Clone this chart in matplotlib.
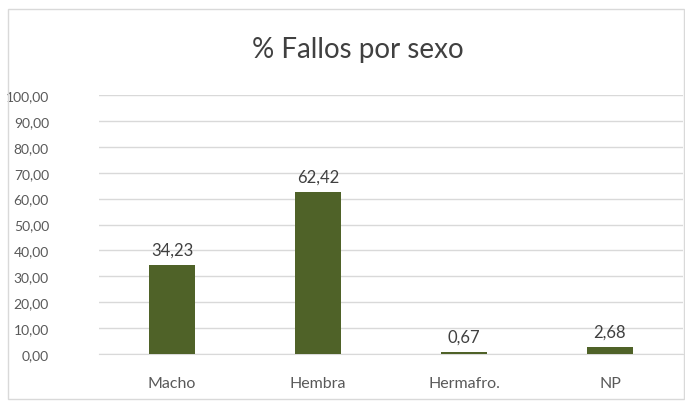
import matplotlib.pyplot as plt
from matplotlib.patches import Rectangle
from matplotlib.ticker import FuncFormatter

categorias = ['Macho', 'Hembra', 'Hermafro.', 'NP']
porcentajes = [34.23, 62.42, 0.67, 2.68]

plt.rcParams['font.family'] = ['Lato', 'DejaVu Sans']

W, H = 685, 406
fig = plt.figure(figsize=(W / 100, H / 100), dpi=100)
fig.patch.set_facecolor('white')

# marco del gráfico
fig.patches.append(Rectangle((8 / W, 6 / H), 676 / W, 390 / H, transform=fig.transFigure,
                             fill=False, edgecolor='#d9d9d9', linewidth=1))

ax = fig.add_axes([99 / W, 1 - 355 / H, 584 / W, 259 / H])
ax.bar(range(len(categorias)), porcentajes, width=0.31, color='#4f6228', zorder=3)

for i, v in enumerate(porcentajes):
    ax.text(i, v + 3, f'{v:.2f}'.replace('.', ','), ha='center', va='bottom',
            fontsize=12, color='#404040')

ax.set_xlim(-0.5, len(categorias) - 0.5)
ax.set_ylim(0, 100)
ax.set_yticks(range(0, 101, 10))
ax.yaxis.set_major_formatter(FuncFormatter(lambda y, _: f'{y:.2f}'.replace('.', ',')))
ax.set_xticks(range(len(categorias)))
ax.set_xticklabels(categorias)
ax.tick_params(axis='x', length=0, labelsize=11.5, labelcolor='#595959', pad=16)
ax.tick_params(axis='y', length=0, labelsize=10, labelcolor='#595959', pad=36)
for lbl in ax.get_yticklabels():
    lbl.set_horizontalalignment('right')
ax.grid(axis='y', color='#d9d9d9', linewidth=1, zorder=0)
for side in ['top', 'right', 'left']:
    ax.spines[side].set_visible(False)
ax.spines['bottom'].set_color('#d9d9d9')

fig.text(358 / W, 1 - 50 / H, '% Fallos por sexo', ha='center', va='center',
         fontsize=20, color='#404040')

fig.savefig('out.png', dpi=100)
